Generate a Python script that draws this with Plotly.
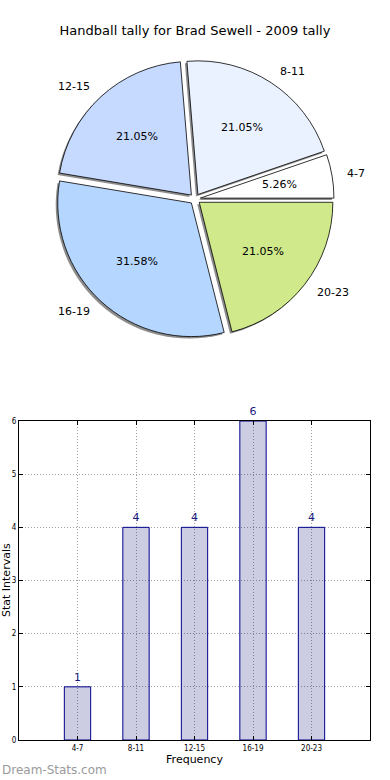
import math
import plotly.graph_objects as go

# ---- data ----
categories = ["4-7", "8-11", "12-15", "16-19", "20-23"]
counts = [1, 4, 4, 6, 4]
pie_colors = ["#ffffff", "#eaf2ff", "#c6d9ff", "#b4d6ff", "#cfe98b"]
explode = [0.04, 0.04, 0.04, 0.04, 0.04]
y_ticks = [0, 1, 2, 3, 4, 5, 6]

W, H = 390, 780

# pie geometry (pixels)
cx, cy = 195, 199
half = 139
def dom(cx, cy, half):
    return dict(x=[(cx - half) / W, (cx + half) / W],
                y=[(H - cy - half) / H, (H - cy + half) / H])

total = sum(counts)
# plotly's counterclockwise pies end the first slice at `rotation`; start it at 3 o'clock
rotation = 90 - 360 * counts[0] / total

common = dict(labels=categories, values=counts, sort=False, direction="counterclockwise",
              rotation=rotation, hoverinfo="skip", showlegend=False, textinfo="none")

fig = go.Figure()
# shadow
fig.add_trace(go.Pie(**common, domain=dom(cx - 2, cy + 2, half), pull=explode,
                     marker=dict(colors=["rgba(80,80,80,0.65)"] * 5, line=dict(width=0))))
# main pie
fig.add_trace(go.Pie(**common, domain=dom(cx, cy, half), pull=explode,
                     marker=dict(colors=pie_colors, line=dict(color="black", width=0.8))))

# text labels (category names at 1.1 r, percentages at 0.6 r, like matplotlib)
r = half / (1 + max(explode))
annotations = []
cum = 0
for cat, v, e in zip(categories, counts, explode):
    theta = math.radians(360 * (cum + v / 2) / total)
    cum += v
    ox, oy = cx + e * r * math.cos(theta), cy - e * r * math.sin(theta)
    lx, ly = ox + 1.1 * r * math.cos(theta), oy - 1.1 * r * math.sin(theta)
    px, py = ox + 0.6 * r * math.cos(theta), oy - 0.6 * r * math.sin(theta)
    annotations.append(dict(text=cat, xref="paper", yref="paper", x=lx / W, y=1 - ly / H,
                            xanchor="left" if math.cos(theta) > 0 else "right",
                            yanchor="middle", showarrow=False,
                            font=dict(size=11, color="black")))
    annotations.append(dict(text=f"{100 * v / total:.2f}%", xref="paper", yref="paper",
                            x=px / W, y=1 - py / H, xanchor="center", yanchor="middle",
                            showarrow=False, font=dict(size=11, color="black")))

# bar chart
fig.add_trace(go.Bar(x=categories, y=counts, width=0.45, showlegend=False,
                     marker=dict(color="rgba(0,0,110,0.2)", line=dict(color="#00008b", width=1)),
                     text=[str(c) for c in counts], textposition="outside",
                     textfont=dict(family="DejaVu Sans", size=11, color="#1a1a80"),
                     cliponaxis=False, hoverinfo="skip"))

annotations += [
    dict(text="Stat Intervals", textangle=-90, xref="paper", yref="paper",
         x=6 / W, y=(H - 580) / H, xanchor="center", yanchor="middle",
         showarrow=False, font=dict(size=11, color="black")),
    dict(text="Dream-Stats.com", xref="paper", yref="paper", x=0, y=(H - 770) / H,
         xanchor="left", yanchor="middle", showarrow=False,
         font=dict(size=12, color="#9a9a9a", family="DejaVu Sans")),
]

fig.update_layout(
    width=W, height=H, margin=dict(l=0, r=0, t=0, b=0, autoexpand=False), showlegend=False,
    paper_bgcolor="white", plot_bgcolor="white",
    font=dict(family="DejaVu Sans", color="black"),
    title=dict(text="Handball tally for Brad Sewell - 2009 tally", x=0.5, xanchor="center",
               y=1 - 30 / H, yanchor="middle", font=dict(size=13, color="black")),
    xaxis=dict(domain=[19 / W, 370 / W], type="category", range=[-1, 5], automargin=False,
               showline=True, linecolor="black", linewidth=1, mirror="ticks",
               ticks="inside", ticklen=4, tickcolor="black",
               showgrid=True, gridcolor="#a0a0a0", griddash="1px,2px", gridwidth=1,
               tickfont=dict(size=8, family="DejaVu Sans Condensed"),
               title=dict(text="Frequency", font=dict(size=11), standoff=2)),
    yaxis=dict(domain=[40 / H, 359 / H], range=[0, 6], tickvals=y_ticks, automargin=False,
               showline=True, linecolor="black", linewidth=1, mirror="ticks",
               ticks="inside", ticklen=4, tickcolor="black",
               showgrid=True, gridcolor="#a0a0a0", griddash="1px,2px", gridwidth=1,
               zeroline=False, tickfont=dict(size=8, family="DejaVu Sans Condensed")),
    annotations=annotations,
)

fig.write_html("out.html", config={"displayModeBar": False},
               post_script="document.body.style.margin='0';document.body.style.overflow='hidden';")
